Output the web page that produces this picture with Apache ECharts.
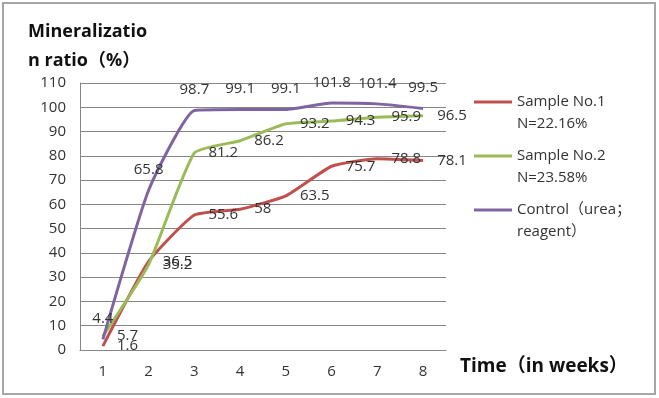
<!DOCTYPE html>
<html><head><meta charset="utf-8">
<script src="https://cdn.jsdelivr.net/npm/echarts@6/dist/echarts.min.js"></script>
<style>html,body{margin:0;padding:0;background:#fff}#c{width:659px;height:398px}</style>
</head><body><div id="c"></div>
<script>
const weeks = ['1','2','3','4','5','6','7','8'];
const sample1 = [1.6, 36.5, 55.6, 58, 63.5, 75.7, 78.8, 78.1];
const sample2 = [5.7, 35.2, 81.2, 86.2, 93.2, 94.3, 95.9, 96.5];
const control = [4.4, 65.8, 98.7, 99.1, 99.1, 101.8, 101.4, 99.5];
const names = ['Sample No.1\nN=22.16%', 'Sample No.2\nN=23.58%', 'Control（urea；\nreagent）'];
const colors = ['#C0504D', '#9BBB59', '#8064A2'];
const FONT = '"Open Sans", "Noto Sans CJK SC", sans-serif';

const chart = echarts.init(document.getElementById('c'), null, {renderer: 'canvas'});
const lbl = (pos) => ({show: true, position: pos, distance: pos === 'top' ? 13 : 14, color: '#333', fontSize: 15, fontFamily: FONT});
const mkSeries = (name, data, i, pos) => ({
  name, type: 'line', data, smooth: 0.15, showSymbol: true, symbol: 'circle', symbolSize: 0,
  lineStyle: {width: 3, color: colors[i]}, itemStyle: {color: colors[i]},
  label: lbl(pos), z: 3 + i
});
const legendTops = [69, 123, 177];
chart.setOption({
  animation: false,
  textStyle: {fontFamily: FONT},
  graphic: [{type: 'rect', shape: {x: 3, y: 3, width: 652, height: 391}, style: {fill: 'none', stroke: '#A6A6A6', lineWidth: 2}, silent: true}],
  title: [
    {text: 'Mineralizatio\nn ratio（%）', left: 23, top: 12, textStyle: {fontSize: 18, fontWeight: 'bold', color: '#111', lineHeight: 29, fontFamily: FONT}},
    {text: 'Time（in weeks）', left: 455, top: 352, textStyle: {fontSize: 19, fontWeight: 'bold', color: '#111', fontFamily: FONT}}
  ],
  legend: names.map((n, i) => ({
    data: [n], left: 474, top: legendTops[i], orient: 'vertical', padding: 0,
    icon: 'rect', itemWidth: 38, itemHeight: 3, itemGap: 0,
    formatter: (name) => '\n' + name,
    textStyle: {fontSize: 15, color: '#333', lineHeight: 22, fontFamily: FONT}
  })),
  grid: {left: 80, right: 213, top: 83, bottom: 48},
  xAxis: {
    type: 'category', data: weeks, boundaryGap: true,
    axisLine: {lineStyle: {color: '#868686', width: 1}},
    axisTick: {show: false},
    axisLabel: {color: '#333', fontSize: 15, margin: 14}
  },
  yAxis: {
    type: 'value', min: 0, max: 110, interval: 10,
    axisLine: {show: true, lineStyle: {color: '#868686'}},
    axisTick: {show: false},
    splitLine: {lineStyle: {color: '#868686', width: 1}},
    axisLabel: {color: '#333', fontSize: 15, margin: 14}
  },
  series: [
    mkSeries(names[0], sample1, 0, 'right'),
    mkSeries(names[1], sample2, 1, 'right'),
    mkSeries(names[2], control, 2, 'top')
  ]
});
</script></body></html>
